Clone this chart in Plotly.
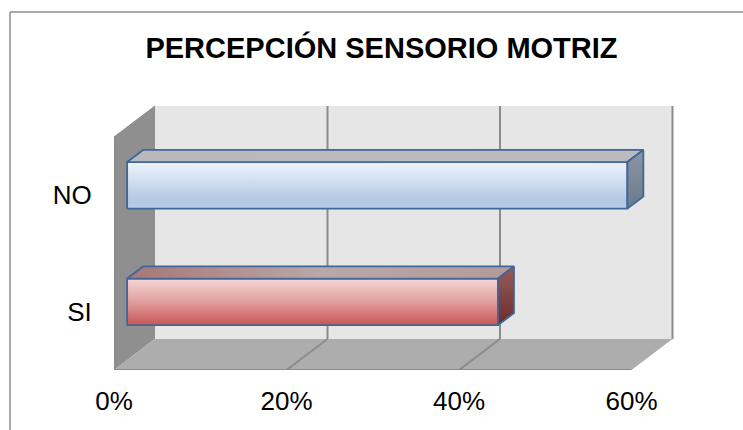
import plotly.graph_objects as go

# ---- data ----
categories = ["SI", "NO"]
values = [43, 58]            # percent
tick_vals = [0, 20, 40, 60]
tick_labels = ["0%", "20%", "40%", "60%"]
title_text = "PERCEPCIÓN SENSORIO MOTRIZ"

# ---- geometry / style constants ----
AXIS_MAX = 60
PX_PER_PCT = 8.625
PLOT_W = 586
WALL_H = 233
DX = 41 / PX_PER_PCT     # depth offset in percent units
DY = 31                  # depth offset in y units
DF, DB = 0.32, 0.71      # bar front / back depth fractions
BAR_FRAC = 0.4
OUTLINE = "#41679a"
GRID = "#8c8c8c"

band = WALL_H / len(categories)


def proj(x, y, d):
    return x + d * DX, y + d * DY


fig = go.Figure()


def poly(pts, fillcolor=None, gradient=None, line_color="rgba(0,0,0,0)", line_width=0):
    xs = [proj(*p)[0] for p in pts] + [proj(*pts[0])[0]]
    ys = [proj(*p)[1] for p in pts] + [proj(*pts[0])[1]]
    kw = dict(x=xs, y=ys, mode="lines", fill="toself",
              line=dict(color=line_color, width=line_width),
              hoverinfo="skip", showlegend=False)
    if gradient is not None:
        kw["fillgradient"] = gradient
    else:
        kw["fillcolor"] = fillcolor
    fig.add_trace(go.Scatter(**kw))


def seg(p1, p2, color=GRID, width=2):
    a, b = proj(*p1), proj(*p2)
    fig.add_trace(go.Scatter(x=[a[0], b[0]], y=[a[1], b[1]], mode="lines",
                             line=dict(color=color, width=width),
                             hoverinfo="skip", showlegend=False))


# walls
poly([(0, 0, 1), (AXIS_MAX, 0, 1), (AXIS_MAX, WALL_H, 1), (0, WALL_H, 1)], fillcolor="#e6e6e6")
poly([(0, 0, 0), (0, 0, 1), (0, WALL_H, 1), (0, WALL_H, 0)], fillcolor="#8f8f8f")
poly([(0, 0, 0), (AXIS_MAX, 0, 0), (AXIS_MAX, 0, 1), (0, 0, 1)], fillcolor="#adadad")

# gridlines
for t in tick_vals[1:]:
    seg((t, 0, 1), (t, WALL_H, 1))
    if t < AXIS_MAX:
        seg((t, 0, 0), (t, 0, 1))
seg((0, 0, 0), (AXIS_MAX, 0, 0), color="#8a8a8a", width=2)
seg((0, 0, 0), (0, WALL_H, 0), color="#8a8a8a", width=1.5)
seg((0, WALL_H, 0), (0, WALL_H, 1), color="#8a8a8a", width=1)

styles = {
    "NO": dict(
        front=dict(type="vertical", colorscale=[[0, "#b9cde8"], [0.15, "#b1c7e4"], [1, "#edf4fb"]]),
        top=dict(type="horizontal", colorscale=[[0, "#b8b8bd"], [1, "#bbbbbf"]]),
        side=dict(type="vertical", colorscale=[[0, "#6b798c"], [1, "#8c97a5"]]),
    ),
    "SI": dict(
        front=dict(type="vertical", colorscale=[[0, "#c85656"], [0.55, "#e4a4a4"], [1, "#f5d6d6"]]),
        top=dict(type="horizontal", colorscale=[[0, "#a87676"], [0.5, "#b8a8a8"], [1, "#b39a9a"]]),
        side=dict(type="vertical", colorscale=[[0, "#6c2c2c"], [1, "#955c5c"]]),
    ),
}

centers = []
for i, (cat, v) in enumerate(zip(categories, values)):
    c = (i + 0.5) * band
    centers.append(c)
    h = BAR_FRAC * band / 2
    st = styles[cat]
    poly([(0, c - h, DF), (v, c - h, DF), (v, c + h, DF), (0, c + h, DF)],
         gradient=st["front"], line_color=OUTLINE, line_width=1.8)
    poly([(0, c + h, DF), (v, c + h, DF), (v, c + h, DB), (0, c + h, DB)],
         gradient=st["top"], line_color=OUTLINE, line_width=1.8)
    poly([(v, c - h, DF), (v, c - h, DB), (v, c + h, DB), (v, c + h, DF)],
         gradient=st["side"], line_color=OUTLINE, line_width=1.8)

FONT = "Liberation Sans, Arial, sans-serif"


def px_x(px):
    return (px - 114) / 586


def px_y(py):
    return (370 - py) / 270


fig.update_layout(
    width=743, height=430,
    margin=dict(l=114, r=43, t=100, b=60),
    paper_bgcolor="white", plot_bgcolor="rgba(0,0,0,0)",
    title=dict(text="<b>" + title_text + "</b>", x=381.5 / 743, xref="container",
               xanchor="center", y=1 - 48 / 430, yref="container", yanchor="middle",
               font=dict(family=FONT, size=29, color="black")),
    xaxis=dict(range=[0, PLOT_W / PX_PER_PCT], tickvals=tick_vals, ticktext=tick_labels,
               showgrid=False, zeroline=False, showline=False,
               ticks="outside", ticklen=8, tickcolor="rgba(0,0,0,0)",
               tickfont=dict(family=FONT, size=26, color="black"), fixedrange=True),
    yaxis=dict(range=[0, 270], tickvals=centers, ticktext=categories,
               showgrid=False, zeroline=False, showline=False,
               ticks="outside", ticklen=16, tickcolor="rgba(0,0,0,0)",
               tickfont=dict(family=FONT, size=26, color="black"), fixedrange=True),
    shapes=[
        dict(type="rect", xref="paper", yref="paper", x0=px_x(728), x1=px_x(760),
             y0=px_y(460), y1=px_y(14), fillcolor="white", line=dict(width=0), layer="above"),
        dict(type="line", xref="paper", yref="paper", x0=px_x(10), x1=px_x(760),
             y0=px_y(12), y1=px_y(12), line=dict(color="#8c8c8c", width=1.5), layer="above"),
        dict(type="line", xref="paper", yref="paper", x0=px_x(10), x1=px_x(10),
             y0=px_y(460), y1=px_y(12), line=dict(color="#8c8c8c", width=1.5), layer="below"),
    ],
)

fig.write_html("out.html", config={"displayModeBar": False},
               post_script="document.body.style.margin='0';document.body.style.overflow='hidden';")
